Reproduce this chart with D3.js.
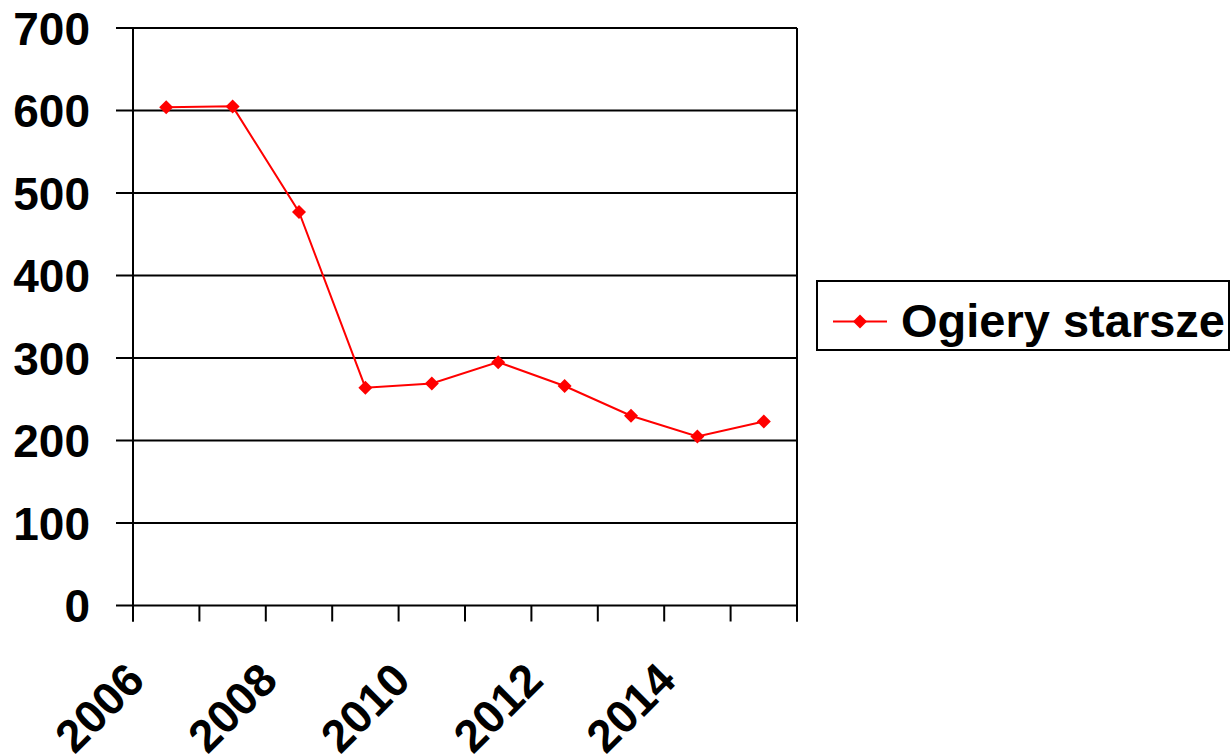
<!DOCTYPE html>
<html>
<head>
<meta charset="utf-8">
<script src="https://cdn.jsdelivr.net/npm/d3@7"></script>
<style>
  body { margin: 0; background: #fff; }
  text { font-family: "Liberation Sans", Arial, sans-serif; font-weight: bold; fill: #000; }
</style>
</head>
<body>
<script>
var years = ['2006','2007','2008','2009','2010','2011','2012','2013','2014','2015'];
var values = [604, 605, 477, 264, 269, 295, 266, 230, 205, 223];
var yTicks = [0, 100, 200, 300, 400, 500, 600, 700];
var xLabels = ['2006','2008','2010','2012','2014'];
var seriesName = 'Ogiery starsze';

var width = 1231, height = 754;
var plotLeft = 133, plotRight = 797, plotTop = 28, plotBottom = 605.5;

var svg = d3.select('body').append('svg')
    .attr('width', width)
    .attr('height', height);

// skale
var xScale = d3.scaleBand().domain(years).range([plotLeft, plotRight]);
var yScale = d3.scaleLinear().domain([0, 700]).range([plotBottom, plotTop]);

// linie siatki + ticki po lewej
svg.append('g').selectAll('line')
    .data(yTicks)
    .enter()
    .append('line')
    .attr('x1', plotLeft - 17)
    .attr('x2', plotRight)
    .attr('y1', function(d){ return yScale(d); })
    .attr('y2', function(d){ return yScale(d); })
    .attr('stroke', '#000')
    .attr('stroke-width', 2);

// etykiety osi Y
svg.append('g').selectAll('text')
    .data(yTicks)
    .enter()
    .append('text')
    .attr('x', 90)
    .attr('y', function(d){ return yScale(d); })
    .attr('dy', '0.36em')
    .attr('text-anchor', 'end')
    .style('font-size', '46px')
    .text(function(d){ return d; });

// os Y i prawa krawedz
svg.append('line')
    .attr('x1', plotLeft).attr('x2', plotLeft)
    .attr('y1', plotTop).attr('y2', plotBottom + 16)
    .attr('stroke', '#000').attr('stroke-width', 2);
svg.append('line')
    .attr('x1', plotRight).attr('x2', plotRight)
    .attr('y1', plotTop).attr('y2', plotBottom + 16)
    .attr('stroke', '#000').attr('stroke-width', 2);

// ticki osi X (granice kategorii)
var bounds = years.map(function(d){ return xScale(d); }).concat([plotRight]);
svg.append('g').selectAll('line')
    .data(bounds)
    .enter()
    .append('line')
    .attr('x1', function(d){ return d; })
    .attr('x2', function(d){ return d; })
    .attr('y1', plotBottom)
    .attr('y2', plotBottom + 16)
    .attr('stroke', '#000')
    .attr('stroke-width', 2);

// etykiety osi X, obrocone
svg.append('g').selectAll('text')
    .data(xLabels)
    .enter()
    .append('text')
    .attr('transform', function(d){
        var x = xScale(d) + xScale.bandwidth() / 2 - 42;
        return 'translate(' + x + ',' + 660 + ') rotate(-45)';
    })
    .attr('text-anchor', 'end')
    .attr('dy', '0.7em')
    .style('font-size', '46px')
    .text(function(d){ return d; });

// linia serii
var line = d3.line()
    .x(function(d, i){ return xScale(years[i]) + xScale.bandwidth() / 2; })
    .y(function(d){ return yScale(d); });

svg.append('path')
    .datum(values)
    .attr('d', line)
    .attr('fill', 'none')
    .attr('stroke', '#ff0000')
    .attr('stroke-width', 2);

var diamond = 'M0,-7L7,0L0,7L-7,0Z';
svg.append('g').selectAll('path')
    .data(values)
    .enter()
    .append('path')
    .attr('d', diamond)
    .attr('transform', function(d, i){
        return 'translate(' + (xScale(years[i]) + xScale.bandwidth() / 2) + ',' + yScale(d) + ')';
    })
    .attr('fill', '#ff0000');

// legenda
var legend = svg.append('g');
legend.append('rect')
    .attr('x', 817).attr('y', 281)
    .attr('width', 412).attr('height', 69)
    .attr('fill', '#fff')
    .attr('stroke', '#000')
    .attr('stroke-width', 2);
legend.append('line')
    .attr('x1', 833).attr('x2', 887)
    .attr('y1', 321.5).attr('y2', 321.5)
    .attr('stroke', '#ff0000').attr('stroke-width', 2);
legend.append('path')
    .attr('d', diamond)
    .attr('transform', 'translate(860,321.5)')
    .attr('fill', '#ff0000');
legend.append('text')
    .attr('x', 901).attr('y', 337)
    .style('font-size', '47px')
    .text(seriesName);
</script>
</body>
</html>
